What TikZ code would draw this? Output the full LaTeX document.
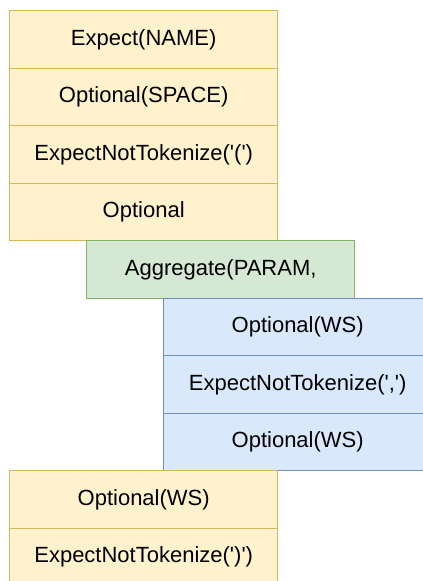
\documentclass[tikz,border=0pt]{standalone}
\usepackage{fontspec}
\setmainfont{Liberation Sans}
\newcommand{\sq}{\textquotesingle}
\definecolor{yfill}{HTML}{FFF2CC}
\definecolor{ydraw}{HTML}{D6B656}
\definecolor{gfill}{HTML}{D5E8D4}
\definecolor{gdraw}{HTML}{82B366}
\definecolor{bfill}{HTML}{DAE8FC}
\definecolor{bdraw}{HTML}{6C8EBF}
\begin{document}
\begin{tikzpicture}[x=1pt,y=-1pt,
  cell/.style={draw, line width=1.4pt, rectangle, minimum width=268pt, minimum height=57.5pt,
    inner sep=0pt, anchor=north west, font=\fontsize{22}{26}\selectfont, text=black},
  ycell/.style={cell, fill=yfill, draw=ydraw},
  gcell/.style={cell, fill=gfill, draw=gdraw},
  bcell/.style={cell, fill=bfill, draw=bdraw}]
\useasboundingbox (0,0) rectangle (423,581);
\clip (0,0) rectangle (423,581);
% first stack
\node[ycell] (a1) at (9,10) {Expect(NAME)};
\node[ycell] (a2) at (9,67.5) {Optional(SPACE)};
\node[ycell] (a3) at (9,125) {ExpectNotTokenize(\sq(\sq)};
\node[ycell] (a4) at (9,182.5) {Optional};
% aggregate
\node[gcell] (g1) at (86,240) {Aggregate(PARAM,};
% parameter separator stack
\node[bcell] (b1) at (163,297.5) {Optional(WS)};
\node[bcell] (b2) at (163,355) {ExpectNotTokenize(\sq,\sq)};
\node[bcell] (b3) at (163,412.5) {Optional(WS)};
% closing stack
\node[ycell] (c1) at (9,470) {Optional(WS)};
\node[ycell] (c2) at (9,527.5) {ExpectNotTokenize(\sq)\sq)};
\end{tikzpicture}
\end{document}
